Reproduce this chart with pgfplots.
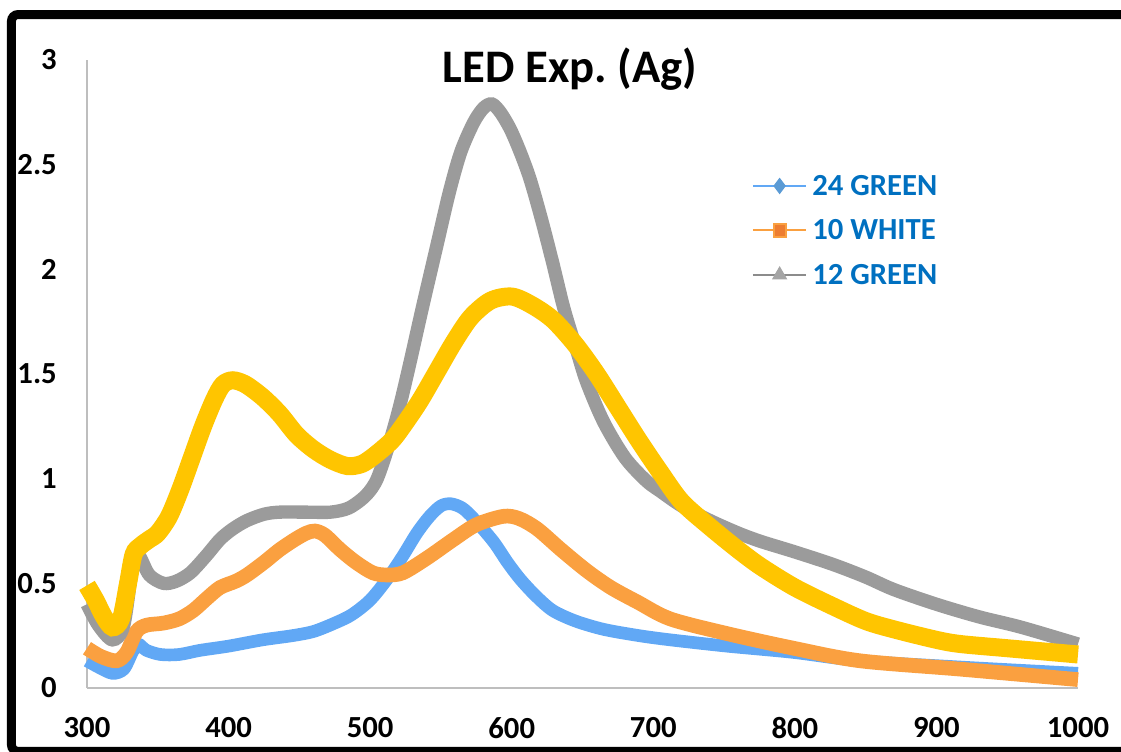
\documentclass[border=0pt]{standalone}
\usepackage{pgfplots}
\pgfplotsset{compat=1.18}
\usepackage{fontspec}
\setmainfont{Carlito}
\definecolor{cblue}{RGB}{97,168,245}
\definecolor{corange}{RGB}{250,160,64}
\definecolor{cgray}{RGB}{155,155,155}
\definecolor{cyellow}{RGB}{255,197,0}
\definecolor{mblue}{RGB}{91,155,213}
\definecolor{morange}{RGB}{237,125,49}
\definecolor{mgray}{RGB}{165,165,165}
\definecolor{legblue}{RGB}{0,112,192}
\definecolor{axgray}{RGB}{190,190,190}
\begin{document}
\frenchspacing
\begin{tikzpicture}
\path[use as bounding box] (0,0) rectangle (840.75pt,564pt);
\begin{axis}[
  at={(65.25pt,48pt)}, anchor=south west,
  scale only axis, width=743.25pt, height=471pt,
  xmin=300, xmax=1000, ymin=0, ymax=3,
  axis x line=bottom, axis y line=left,
  axis line style={-, draw=axgray, line width=0.9pt},
  xtick={300,400,...,1000}, ytick={0,0.5,1,1.5,2,2.5,3},
  major tick length=0pt,
  tick label style={font=\fontsize{23}{27}\selectfont\bfseries, text=black},
  /pgf/number format/assume math mode=true,
  /pgf/number format/1000 sep={},
  scaled ticks=false,
  xticklabel style={inner sep=0pt, anchor=north, yshift=-21.75pt},
  yticklabel style={inner sep=0pt, anchor=east, xshift=-22.5pt},
  clip=false,
  legend style={at={(0.671,0.817)}, anchor=north west, draw=none, fill=none,
    inner sep=0pt, outer sep=0pt, row sep=16.8pt, column sep=3.75pt,
    font=\fontsize{23}{27}\selectfont\bfseries, text=legblue,
    nodes={inner sep=0pt}},
  legend cell align=left,
  legend image code/.code={\draw[mark repeat=2,mark phase=2,#1] plot coordinates {(0pt,0pt) (20pt,0pt) (40pt,0pt)};},
]
\addlegendimage{cblue, line width=1.5pt, mark=diamond*, mark size=5pt, mark options={fill=mblue, draw=mblue}}
\addlegendentry{24 GREEN}
\addlegendimage{corange, line width=1.5pt, mark=square*, mark size=4.6pt, mark options={fill=morange, draw=corange}}
\addlegendentry{10 WHITE}
\addlegendimage{mgray!85!black, line width=1.5pt, mark=triangle*, mark size=5.2pt, mark options={fill=mgray, draw=mgray}}
\addlegendentry{12 GREEN}

% 24 GREEN
\addplot[forget plot, cblue, line width=9.5pt, smooth, tension=0.5] coordinates {
(300,0.13) (308,0.10) (318,0.07) (326,0.09) (332,0.17) (336,0.21) (342,0.18) (352,0.16)
(365,0.16) (380,0.18) (400,0.20) (424,0.23) (445,0.25) (460,0.27) (475,0.31) (487,0.35)
(500,0.42) (512,0.52) (523,0.63) (533,0.74) (542,0.82) (550,0.87) (557,0.88) (565,0.86)
(573,0.81) (587,0.70) (597,0.60) (606,0.52) (617,0.44) (629,0.37) (645,0.32) (665,0.28)
(690,0.25) (712,0.23) (752,0.20) (799,0.17) (846,0.13) (917,0.10) (1000,0.07)};
% 10 WHITE
\addplot[forget plot, corange, line width=11pt, smooth, tension=0.5] coordinates {
(300,0.19) (310,0.15) (321,0.13) (328,0.17) (335,0.27) (342,0.30) (354,0.31) (365,0.33)
(375,0.37) (385,0.43) (394,0.48) (405,0.51) (413,0.54) (425,0.60) (436,0.66) (447,0.71)
(455,0.74) (461,0.75) (468,0.73) (479,0.66) (490,0.60) (502,0.55) (512,0.54) (523,0.55)
(540,0.62) (559,0.71) (575,0.78) (594,0.82) (605,0.81) (618,0.76) (635,0.66) (653,0.56)
(670,0.48) (689,0.41) (712,0.33) (752,0.26) (799,0.19) (846,0.13) (917,0.09) (1000,0.04)};
% 12 GREEN
\addplot[forget plot, cgray, line width=10pt, smooth, tension=0.5] coordinates {
(300,0.40) (308,0.30) (318,0.23) (326,0.30) (333,0.62) (337,0.63) (344,0.54) (354,0.50)
(363,0.51) (373,0.55) (384,0.63) (394,0.71) (403,0.76) (413,0.80) (425,0.83) (436,0.84)
(455,0.84) (472,0.84) (485,0.86) (497,0.92) (505,1.00) (514,1.18) (521,1.35) (528,1.55)
(537,1.82) (547,2.11) (556,2.37) (564,2.56) (573,2.70) (580,2.77) (586,2.79) (592,2.75)
(599,2.67) (606,2.56) (613,2.43) (621,2.24) (629,2.03) (637,1.81) (646,1.61) (653,1.46)
(665,1.27) (680,1.10) (695,0.99) (705,0.94) (720,0.87) (740,0.80) (760,0.74) (776,0.70)
(800,0.65) (827,0.59) (850,0.53) (870,0.47) (900,0.40) (930,0.34) (960,0.29) (1000,0.21)};
% yellow (no legend)
\addplot[forget plot, cyellow, line width=13.5pt, smooth, tension=0.5] coordinates {
(300,0.49) (306,0.42) (312,0.34) (318,0.29) (324,0.33) (329,0.50) (333,0.64) (338,0.68)
(344,0.71) (350,0.74) (358,0.82) (366,0.95) (374,1.10) (382,1.25) (390,1.38) (396,1.45)
(403,1.47) (412,1.45) (424,1.39) (436,1.31) (448,1.21) (460,1.14) (472,1.09) (484,1.06)
(494,1.07) (503,1.11) (515,1.18) (523,1.25) (535,1.37) (547,1.51) (559,1.65) (571,1.77)
(585,1.85) (600,1.87) (614,1.83) (629,1.76) (645,1.64) (660,1.50) (675,1.34) (690,1.18)
(705,1.03) (720,0.89) (740,0.77) (760,0.66) (776,0.58) (800,0.48) (827,0.39) (850,0.32)
(870,0.28) (900,0.23) (917,0.21) (950,0.19) (1000,0.16)};
\end{axis}
\node[font=\fontsize{35}{42}\selectfont\bfseries, anchor=base] at (427.5pt,501.75pt) {LED Exp. (Ag)};
\draw[line width=6.75pt, rounded corners=5pt] (8.6pt,0.4pt) rectangle (870pt,553.1pt);
\end{tikzpicture}
\end{document}
